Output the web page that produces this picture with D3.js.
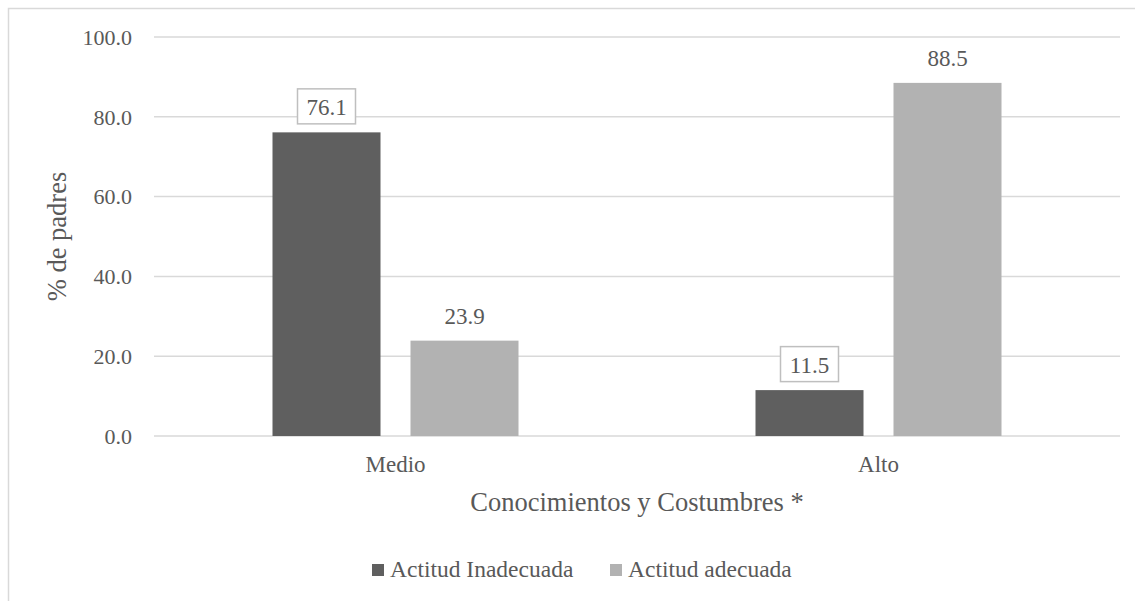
<!DOCTYPE html>
<meta charset="utf-8">
<style>
    body { margin: 0; background: #fff; }
    svg text { font-family: "Liberation Serif", "Times New Roman", Times, "DejaVu Serif", serif; fill: #595959; }
</style>
<div id="chart"></div>
<script src="https://d3js.org/d3.v7.min.js"></script>
<script>
    // chart data
    var categories = ["Medio", "Alto"];
    var seriesNames = ["Actitud Inadecuada", "Actitud adecuada"];
    var inadecuada = [76.1, 11.5];
    var adecuada = [23.9, 88.5];
    var yTicks = [0, 20, 40, 60, 80, 100];
    var boxedLabels = [true, false]; // series 1 labels have a border
    var colors = ["#5f5f5f", "#b2b2b2"];

    var W = 1135, H = 601;
    var margin = { top: 37, left: 154 };
    var width = 1120 - margin.left,
        height = 436 - margin.top;

    var svg = d3.select("#chart").append("svg")
        .attr("width", W).attr("height", H);

    // outer chart border (right and bottom edges run off the page)
    svg.append("rect")
        .attr("x", 8.5).attr("y", 8.5)
        .attr("width", 1140).attr("height", 620)
        .attr("fill", "#fff").attr("stroke", "#d9d9d9").attr("stroke-width", 1.5);

    var g = svg.append("g")
        .attr("transform", "translate(" + margin.left + "," + margin.top + ")");

    var x0 = d3.scaleBand().domain(categories).range([0, width]);
    var x1 = d3.scaleBand().domain(seriesNames).range([0, 246]).paddingInner(30 / 138);
    var y = d3.scaleLinear().domain([0, 100]).range([height, 0]);

    // gridlines
    g.selectAll(".grid").data(yTicks).enter().append("line")
        .attr("x1", 0).attr("x2", width)
        .attr("y1", function (d) { return y(d); })
        .attr("y2", function (d) { return y(d); })
        .attr("stroke", "#d9d9d9").attr("stroke-width", 1.5);

    // y tick labels
    g.selectAll(".ytick").data(yTicks).enter().append("text")
        .attr("x", -22)
        .attr("y", function (d) { return y(d); })
        .attr("dy", "0.35em")
        .attr("text-anchor", "end")
        .style("font-size", "22px")
        .text(function (d) { return d.toFixed(1); });

    // bars
    var series = [inadecuada, adecuada];
    var rows = [];
    categories.forEach(function (c, i) {
        seriesNames.forEach(function (s, j) {
            rows.push({ cat: c, name: s, si: j, value: series[j][i] });
        });
    });

    function bx(d) { return x0(d.cat) + (x0.bandwidth() - 246) / 2 + x1(d.name); }

    g.selectAll(".bar").data(rows).enter().append("rect")
        .attr("x", bx)
        .attr("width", x1.bandwidth())
        .attr("y", function (d) { return y(d.value); })
        .attr("height", function (d) { return height - y(d.value); })
        .attr("fill", function (d) { return colors[d.si]; });

    // data labels
    rows.forEach(function (d) {
        var cx = bx(d) + x1.bandwidth() / 2;
        var top = y(d.value);
        if (boxedLabels[d.si]) {
            g.append("rect")
                .attr("x", cx - 29).attr("y", top - 43.5)
                .attr("width", 58).attr("height", 35)
                .attr("fill", "#fff").attr("stroke", "#bfbfbf").attr("stroke-width", 1.5);
        }
        g.append("text")
            .attr("x", cx).attr("y", top - 17)
            .attr("text-anchor", "middle")
            .style("font-size", "23px")
            .text(d.value.toFixed(1));
    });

    // category labels
    g.selectAll(".xtick").data(categories).enter().append("text")
        .attr("x", function (d) { return x0(d) + x0.bandwidth() / 2; })
        .attr("y", height + 35.5)
        .attr("text-anchor", "middle")
        .style("font-size", "23px")
        .text(function (d) { return d; });

    // axis titles
    svg.append("text")
        .attr("x", margin.left + width / 2)
        .attr("y", 511)
        .attr("text-anchor", "middle")
        .style("font-size", "26.5px")
        .text("Conocimientos y Costumbres *");

    svg.append("text")
        .attr("transform", "translate(66," + (margin.top + height / 2) + ") rotate(-90)")
        .attr("text-anchor", "middle")
        .style("font-size", "26.5px")
        .text("% de padres");

    // legend
    var legend = svg.append("g").attr("transform", "translate(372,577)");
    var lx = [0, 238];
    seriesNames.forEach(function (s, i) {
        legend.append("rect")
            .attr("x", lx[i]).attr("y", -13)
            .attr("width", 12).attr("height", 12)
            .attr("fill", colors[i]);
        legend.append("text")
            .attr("x", lx[i] + 18).attr("y", 0)
            .style("font-size", "23.5px")
            .text(s);
    });
</script>
